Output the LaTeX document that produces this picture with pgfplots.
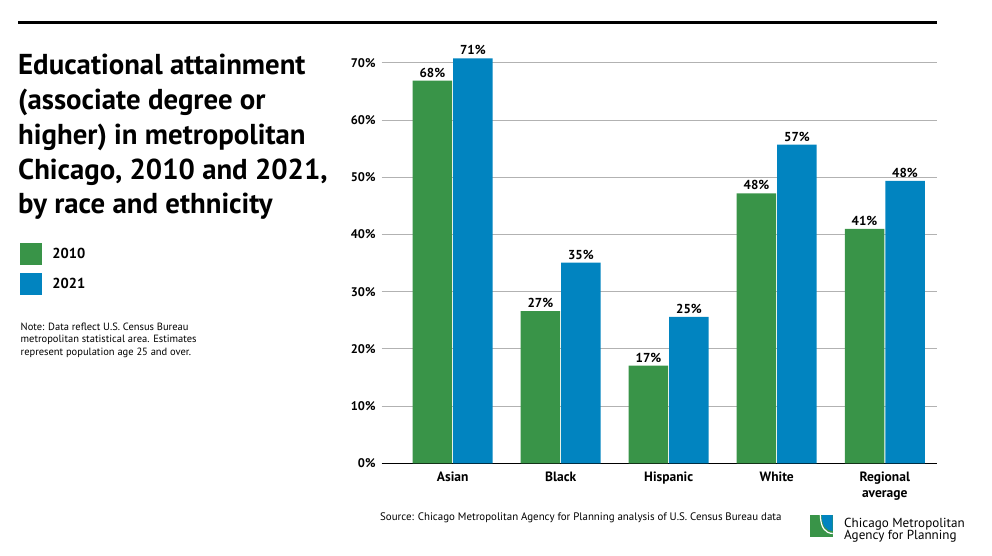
\documentclass[border=0pt]{standalone}
\usepackage{fontspec}
\setmainfont{PT Sans}
\usepackage{pgfplots}
\pgfplotsset{compat=1.18}
\usepackage{pgfplotstable}
\definecolor{cgreen}{RGB}{57,148,72}
\definecolor{cblue}{RGB}{1,132,192}
\definecolor{cgrid}{RGB}{178,178,178}

\pgfplotstableread{
x g gl b bl
0 66.9 68 70.8 71
1 26.6 27 35.1 35
2 17.1 17 25.6 25
3 47.2 48 55.7 57
4 41.0 41 49.4 48
}\datatable

\begin{document}
\begin{tikzpicture}[x=1pt,y=1pt]
\useasboundingbox (0,0) rectangle (992,-555);
\draw[line width=3pt] (18,-22) -- (937,-22);
\begin{axis}[
  at={(381.7pt,-463.3pt)}, anchor=south west,
  scale only axis, width=555pt, height=411.8pt,
  xmin=-0.657, xmax=4.481, ymin=0, ymax=72,
  axis x line=bottom, axis y line=left,
  x axis line style={-, line width=1.5pt, black},
  y axis line style={draw=none},
  xtick={0,...,4},
  xticklabels={Asian,Black,Hispanic,White,{Regional\\average}},
  xticklabel style={font=\bfseries\fontsize{13.5}{16}\selectfont, align=center, anchor=north, inner sep=0pt, yshift=-8pt},
  ytick={0,10,...,70},
  yticklabels={0\%,10\%,20\%,30\%,40\%,50\%,60\%,70\%},
  yticklabel style={font=\bfseries\fontsize{12.5}{14}\selectfont, anchor=east, inner sep=0pt, xshift=-6pt},
  major tick length=0pt,
  ymajorgrids, grid style={cgrid, line width=1pt},
  ybar, bar width=39.5pt,
  nodes near coords={\pgfplotspointmeta\%}, point meta=explicit symbolic,
  nodes near coords style={font=\bfseries\fontsize{13}{14}\selectfont, anchor=south, inner sep=0pt, yshift=3pt, black},
  legend style={at={(-0.6514,0.5357)}, anchor=north west, draw=none, fill=none,
    font=\bfseries\fontsize{14.5}{14}\selectfont, row sep=8pt, cells={anchor=west},
    inner sep=0pt, nodes={inner sep=0pt},
    /tikz/every odd column/.append style={column sep=10pt}},
  clip=false,
]
\addplot[fill=cgreen, draw=none, bar shift=-20.25pt,
  legend image code/.code={\fill[cgreen] (0pt,-11pt) rectangle (22pt,11pt);}]
  table[x=x,y=g,meta=gl]{\datatable};
\addplot[fill=cblue, draw=none, bar shift=20.25pt,
  legend image code/.code={\fill[cblue] (0pt,-11pt) rectangle (22pt,11pt);}]
  table[x=x,y=b,meta=bl]{\datatable};
\legend{2010,2021}
\end{axis}
% title
\begin{scope}[every node/.style={anchor=base west, inner sep=0pt, font=\bfseries\fontsize{28.8}{34}\selectfont}]
\node at (18,-74) {Educational attainment};
\node at (18,-109) {(associate degree or};
\node at (18,-144) {higher) in metropolitan};
\node at (18,-179) {Chicago, 2010 and 2021,};
\node at (18,-213.5) {by race and ethnicity};
\end{scope}
\begin{scope}[every node/.style={anchor=base west, inner sep=0pt, font=\fontsize{10.5}{12}\selectfont}]
\node at (20.5,-330) {Note: Data reflect U.S. Census Bureau};
\node at (20.5,-342.5) {metropolitan statistical area. Estimates};
\node at (20.5,-355) {represent population age 25 and over.};
\end{scope}
\node[anchor=base west, inner sep=0pt, font=\fontsize{10.9}{12}\selectfont] at (380,-520) {Source: Chicago Metropolitan Agency for Planning analysis of U.S. Census Bureau data};
% logo
\fill[cgreen] (810,-515) rectangle (832.7,-536.7);
\fill[cblue] (821.5,-515) .. controls (822,-526) and (826,-530.5) .. (832.7,-531) -- (832.7,-515) -- cycle;
\draw[white, line width=1.2pt] (820.3,-515) .. controls (820.8,-528) and (825,-533) .. (832.7,-533.5);
\begin{scope}[every node/.style={anchor=base west, inner sep=0pt, font=\fontsize{13.1}{14}\selectfont}]
\node at (844,-527.5) {Chicago Metropolitan};
\node at (844,-539.5) {Agency for Planning};
\end{scope}
\end{tikzpicture}
\end{document}
